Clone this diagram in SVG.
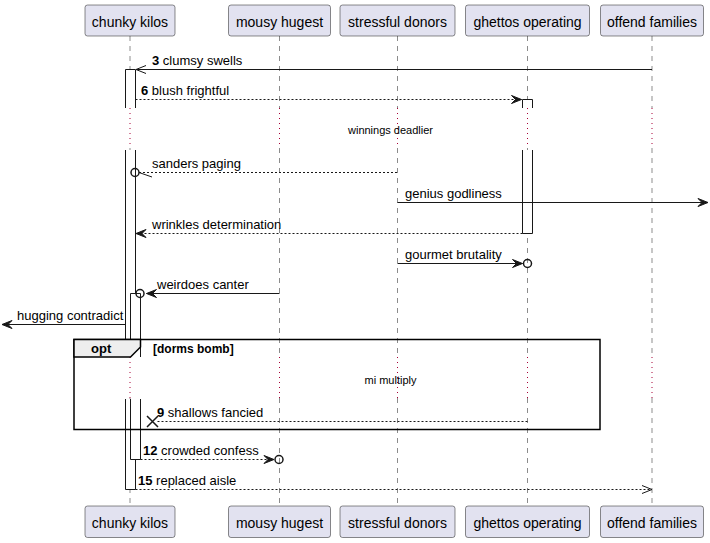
<svg xmlns="http://www.w3.org/2000/svg" width="710" height="543" viewBox="0 0 710 543">
<style>
.box{fill:#E2E2F0;stroke:#181818;stroke-width:0.5}
.pt{font-family:"Liberation Sans",Arial,sans-serif;font-size:14px;fill:#000;text-anchor:middle}
.life{stroke:#181818;stroke-width:0.5;stroke-dasharray:5,5;fill:none}
.delay{stroke:#A80036;stroke-width:1;stroke-dasharray:1,4;fill:none}
.act{fill:#fff;stroke:none}
.edge{stroke:#181818;stroke-width:1;fill:none}
.msg{stroke:#181818;stroke-width:1;fill:none}
.dash{stroke-dasharray:2,2}
.lbl{font-family:"Liberation Sans",Arial,sans-serif;font-size:13px;fill:#000}
.b{font-weight:bold}
.note{font-family:"Liberation Sans",Arial,sans-serif;font-size:11px;fill:#000;text-anchor:middle}
.circ{fill:none;stroke:#181818;stroke-width:1.5}
.frag{fill:none;stroke:#000;stroke-width:1.5}
.tab{fill:#EEEEEE;stroke:#000;stroke-width:1.5}
.ftxt{font-family:"Liberation Sans",Arial,sans-serif;font-weight:bold;fill:#000}
</style>
<defs>
<marker id="fill" markerUnits="userSpaceOnUse" markerWidth="10" markerHeight="8" refX="10" refY="4" orient="auto" overflow="visible">
<path d="M0,0 L10,4 L0,8 L4,4 Z" fill="#181818" stroke="#181818" stroke-width="1"/>
</marker>
<marker id="open" markerUnits="userSpaceOnUse" markerWidth="10" markerHeight="8" refX="10" refY="4" orient="auto" overflow="visible">
<path d="M0,0 L10,4 L0,8" fill="none" stroke="#181818" stroke-width="1"/>
</marker>
</defs>

<g id="lifelines">
<g id="life-chunky">
<line class="life" x1="130" y1="36" x2="130" y2="108"/><line class="delay" x1="130" y1="108" x2="130" y2="148"/><line class="life" x1="130" y1="148" x2="130" y2="357"/><line class="delay" x1="130" y1="357" x2="130" y2="398"/><line class="life" x1="130" y1="398" x2="130" y2="506"/>
</g>
<g id="life-mousy">
<line class="life" x1="279.5" y1="36" x2="279.5" y2="108"/><line class="delay" x1="279.5" y1="108" x2="279.5" y2="148"/><line class="life" x1="279.5" y1="148" x2="279.5" y2="357"/><line class="delay" x1="279.5" y1="357" x2="279.5" y2="398"/><line class="life" x1="279.5" y1="398" x2="279.5" y2="506"/>
</g>
<g id="life-stressful">
<line class="life" x1="397.5" y1="36" x2="397.5" y2="108"/><line class="delay" x1="397.5" y1="108" x2="397.5" y2="148"/><line class="life" x1="397.5" y1="148" x2="397.5" y2="357"/><line class="delay" x1="397.5" y1="357" x2="397.5" y2="398"/><line class="life" x1="397.5" y1="398" x2="397.5" y2="506"/>
</g>
<g id="life-ghettos">
<line class="life" x1="527.5" y1="36" x2="527.5" y2="108"/><line class="delay" x1="527.5" y1="108" x2="527.5" y2="148"/><line class="life" x1="527.5" y1="148" x2="527.5" y2="357"/><line class="delay" x1="527.5" y1="357" x2="527.5" y2="398"/><line class="life" x1="527.5" y1="398" x2="527.5" y2="506"/>
</g>
<g id="life-offend">
<line class="life" x1="652" y1="36" x2="652" y2="108"/><line class="delay" x1="652" y1="108" x2="652" y2="148"/><line class="life" x1="652" y1="148" x2="652" y2="357"/><line class="delay" x1="652" y1="357" x2="652" y2="398"/><line class="life" x1="652" y1="398" x2="652" y2="506"/>
</g>
</g>

<g id="activations">
<g id="act-chunky-outer">
<rect class="act" x="125.5" y="69.5" width="10" height="38.5"/>
<rect class="act" x="125.5" y="150" width="10" height="207"/>
<rect class="act" x="125.5" y="399" width="10" height="90.5"/>
<path class="edge" d="M125.5,108 V69.5 H135.5 V108 M125.5,150 V357 M135.5,150 V357 M125.5,399 V489.5 H135.5 V399"/>
</g>
<g id="act-chunky-inner">
<rect class="act" x="130.5" y="293.5" width="10" height="63.5"/>
<rect class="act" x="130.5" y="399" width="10" height="60.5"/>
<path class="edge" d="M130.5,357 V293.5 H140.5 V357 M130.5,399 V459.5 H140.5 V399"/>
</g>
<g id="act-ghettos">
<rect class="act" x="522.5" y="99.5" width="10" height="8.5"/>
<rect class="act" x="522.5" y="150" width="10" height="83.5"/>
<path class="edge" d="M522.5,108 V99.5 H532.5 V108 M522.5,150 V233.5 H532.5 V150"/>
</g>
</g>

<g id="fragment-opt">
<rect class="frag" x="74" y="339.5" width="526" height="90"/>
<path class="tab" d="M74,339.5 H140.5 V347 L130.5,357 H74 Z"/>
<text class="ftxt" x="91" y="353" font-size="13">opt</text>
<text class="ftxt" x="153" y="352.5" font-size="12">[dorms bomb]</text>
</g>

<g id="participants">
<g id="p-chunky"><rect class="box" x="85" y="5" width="90" height="31" rx="2.5"/><text class="pt" x="130" y="27">chunky kilos</text>
<rect class="box" x="85" y="506" width="90" height="31.5" rx="2.5"/><text class="pt" x="130" y="528">chunky kilos</text></g>
<g id="p-mousy"><rect class="box" x="228.5" y="5" width="102" height="31" rx="2.5"/><text class="pt" x="279.5" y="27">mousy hugest</text>
<rect class="box" x="228.5" y="506" width="102" height="31.5" rx="2.5"/><text class="pt" x="279.5" y="528">mousy hugest</text></g>
<g id="p-stressful"><rect class="box" x="340" y="5" width="115" height="31" rx="2.5"/><text class="pt" x="397.5" y="27">stressful donors</text>
<rect class="box" x="340" y="506" width="115" height="31.5" rx="2.5"/><text class="pt" x="397.5" y="528">stressful donors</text></g>
<g id="p-ghettos"><rect class="box" x="465.5" y="5" width="124" height="31" rx="2.5"/><text class="pt" x="527.5" y="27">ghettos operating</text>
<rect class="box" x="465.5" y="506" width="124" height="31.5" rx="2.5"/><text class="pt" x="527.5" y="528">ghettos operating</text></g>
<g id="p-offend"><rect class="box" x="600.5" y="5" width="103" height="31" rx="2.5"/><text class="pt" x="652" y="27">offend families</text>
<rect class="box" x="600.5" y="506" width="103" height="31.5" rx="2.5"/><text class="pt" x="652" y="528">offend families</text></g>
</g>

<g id="delays">
<text class="note" x="390.5" y="134">winnings deadlier</text>
<text class="note" x="390.5" y="384">mi multiply</text>
</g>

<g id="connectors">
<line class="msg" x1="652" y1="69.5" x2="136" y2="69.5" marker-end="url(#open)"/>
<line class="msg dash" x1="135.5" y1="99.5" x2="521.5" y2="99.5" marker-end="url(#fill)"/>
<line class="msg dash" x1="139" y1="172.5" x2="397.5" y2="172.5"/>
<circle class="circ" cx="135" cy="172.5" r="4"/>
<line class="msg" x1="139" y1="172.5" x2="152" y2="177"/>
<line class="msg" x1="397.5" y1="202.5" x2="708" y2="202.5" marker-end="url(#fill)"/>
<line class="msg dash" x1="522.5" y1="233.5" x2="136" y2="233.5" marker-end="url(#fill)"/>
<line class="msg" x1="397.5" y1="263.5" x2="522.5" y2="263.5" marker-end="url(#fill)"/>
<circle class="circ" cx="527.5" cy="263.5" r="4"/>
<line class="msg" x1="279.5" y1="293.5" x2="146.5" y2="293.5" marker-end="url(#fill)"/>
<circle class="circ" cx="140" cy="293.5" r="4"/>
<line class="msg" x1="125.5" y1="324.5" x2="2" y2="324.5" marker-end="url(#fill)"/>
<line class="msg dash" x1="527.5" y1="421.5" x2="156" y2="421.5"/>
<path class="circ" d="M147,416 L158,427 M147,427 L158,416"/>
<line class="msg dash" x1="140.5" y1="459.5" x2="274" y2="459.5" marker-end="url(#fill)"/>
<circle class="circ" cx="279" cy="459.5" r="4"/>
<line class="msg dash" x1="135.5" y1="489.5" x2="652" y2="489.5" marker-end="url(#open)"/>
</g>

<g id="labels">
<text class="lbl" x="152" y="64.5"><tspan class="b">3</tspan> clumsy swells</text>
<text class="lbl" x="141" y="94.5"><tspan class="b">6</tspan> blush frightful</text>
<text class="lbl" x="152" y="167.5">sanders paging</text>
<text class="lbl" x="405" y="197.5">genius godliness</text>
<text class="lbl" x="152" y="228.5">wrinkles determination</text>
<text class="lbl" x="405" y="258.5">gourmet brutality</text>
<text class="lbl" x="157" y="288.5">weirdoes canter</text>
<text class="lbl" x="17" y="319.5">hugging contradict</text>
<text class="lbl" x="157" y="416.5"><tspan class="b">9</tspan> shallows fancied</text>
<text class="lbl" x="143" y="454.5"><tspan class="b">12</tspan> crowded confess</text>
<text class="lbl" x="138" y="484.5"><tspan class="b">15</tspan> replaced aisle</text>
</g>
</svg>
